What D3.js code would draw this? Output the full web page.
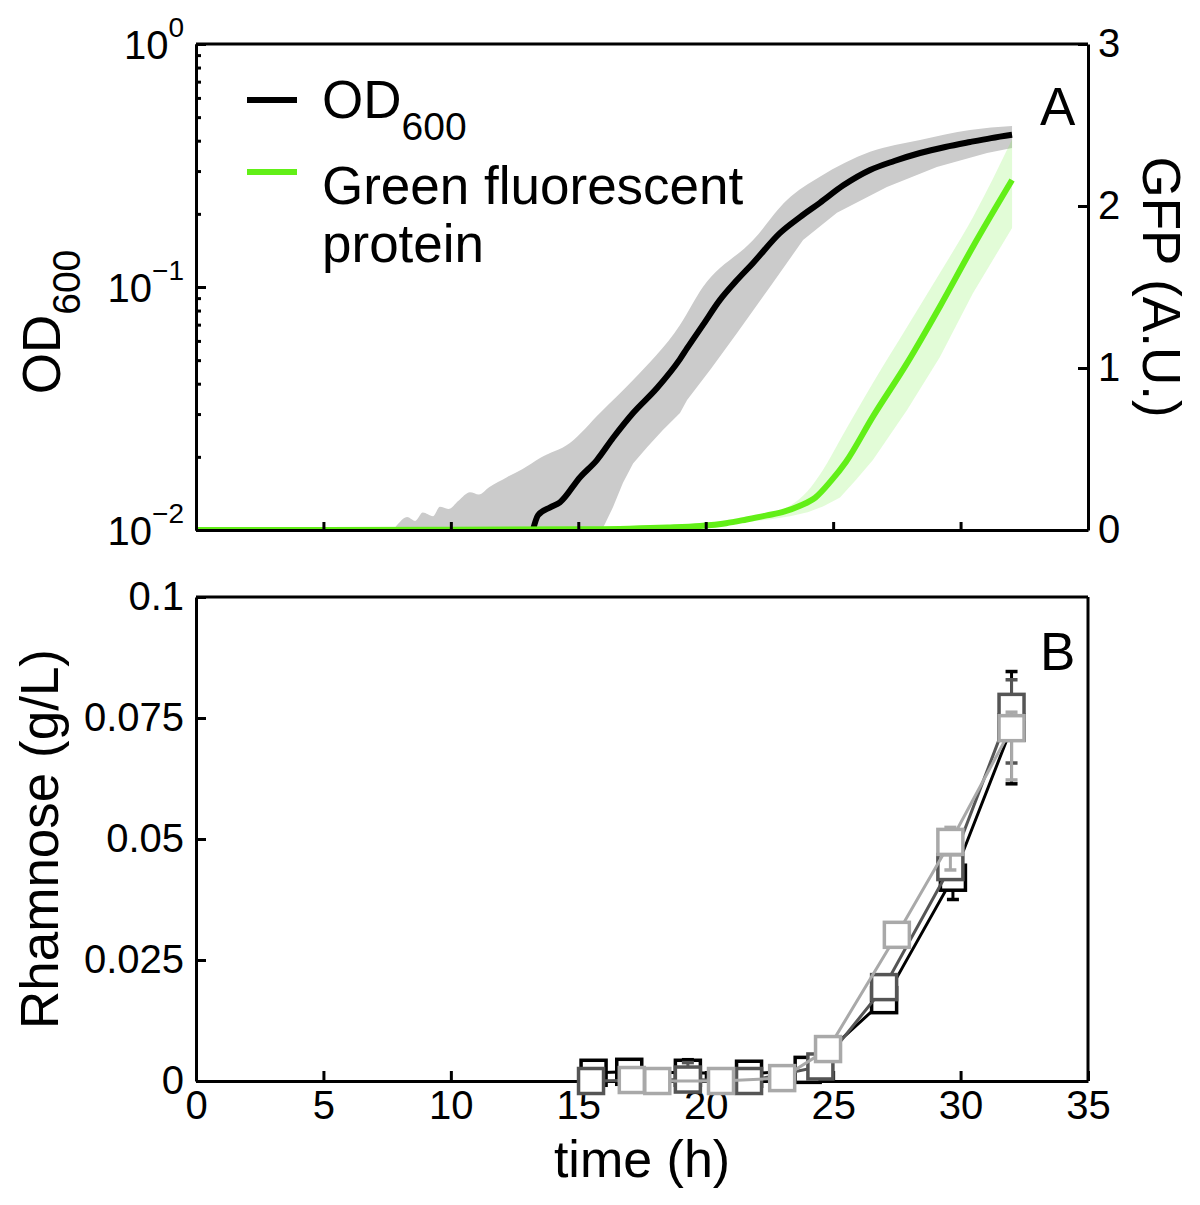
<!DOCTYPE html>
<html><head><meta charset="utf-8">
<script src="https://cdn.jsdelivr.net/npm/d3@7"></script>
<style>
body{margin:0;background:#fff}
text{font-family:"Liberation Sans",Arial,Helvetica,sans-serif;fill:#000}
</style>
</head><body>
<svg id="c" width="1200" height="1205" xmlns="http://www.w3.org/2000/svg"></svg>
<script>
// ---------- DATA ----------
const xTicks = [0,5,10,15,20,25,30,35];
const odMajorTicks = [0.01,0.1,1];
const odMajorExp = ["\u22122","\u22121","0"];
const odMinorTicks = [0.02,0.03,0.04,0.05,0.06,0.07,0.08,0.09,0.2,0.3,0.4,0.5,0.6,0.7,0.8,0.9];
const gfpTicks = [0,1,2,3];
const rhamTicks = [0,0.025,0.05,0.075,0.1];
const rhamTickLabels = ["0","0.025","0.05","0.075","0.1"];

// OD600 mean curve
const odTime = [13.22,13.42,13.9,14.28,15.07,15.73,16.36,17.15,18.09,18.99,19.27,19.9,20.56,21.2,21.86,22.91,23.7,24.48,25.4,26.45,27.4,28.41,29.4,30.37,31.2,32.02];
const odMean = [0.0100,0.0115,0.0124,0.0130,0.0165,0.0194,0.0239,0.0303,0.0384,0.0505,0.0560,0.0700,0.0885,0.106,0.1256,0.1667,0.194,0.222,0.262,0.303,0.330,0.356,0.377,0.395,0.410,0.423];
// OD600 band (upper / lower)
const odUpTime = [7.73,8.0,8.28,8.6,8.9,9.3,9.57,9.9,10.3,10.75,11.1,11.5,12.2,12.8,13.5,14.67,15.85,17.15,18.99,19.89,21.86,23.19,24.48,26.45,28.41,30.37,32.02];
const odUp = [0.0100,0.0108,0.0113,0.0109,0.0118,0.0114,0.01245,0.0122,0.0132,0.0143,0.0140,0.0150,0.0165,0.0178,0.0198,0.0228,0.0303,0.0414,0.0698,0.100,0.156,0.228,0.284,0.360,0.403,0.443,0.460];
const odLoTime = [15.93,16.36,16.75,17.15,17.7,18.32,18.99,19.27,20.2,21.23,22.52,23.82,25.15,27.11,29.07,31.04,32.02];
const odLo = [0.0100,0.0124,0.0156,0.0188,0.0219,0.0258,0.0303,0.0343,0.046,0.0647,0.100,0.156,0.202,0.258,0.312,0.356,0.373];

// GFP mean curve and band
const gfpTime = [0,5,10,15,17,18.5,19.78,20.8,21.6,22.4,23.1,23.7,24.3,24.9,25.5,26.56,27.9,29.19,30.49,32.02];
const gfpMean = [0,0,0.001,0.004,0.008,0.015,0.025,0.042,0.065,0.09,0.115,0.15,0.2,0.3,0.42,0.70,1.03,1.38,1.75,2.16];
const gfpUpTime = [0,15,19.78,21.35,22.5,23.31,24.0,24.6,25.27,26.56,27.9,29.19,30.49,32.02];
const gfpUp = [0,0.006,0.035,0.075,0.105,0.15,0.24,0.37,0.556,0.907,1.253,1.586,1.932,2.41];
const gfpLoTime = [0,15,19.78,21.35,22.5,23.31,24.0,24.6,25.27,25.9,26.56,27.9,29.19,30.49,32.02];
const gfpLo = [0,0.002,0.015,0.045,0.065,0.085,0.11,0.145,0.2,0.31,0.432,0.741,1.068,1.463,1.864];

// Rhamnose (panel B), three replicates
const blackTime = [15.6,17.0,19.3,21.7,24.0,27.0,29.7,32.0];
const blackRham = [0.0017,0.0019,0.0017,0.0015,0.0023,0.0167,0.042,0.073];
const blackErrLo = [0.0008,0.0008,0.001,0.0006,0.0008,0.0025,0.0045,0.0116];
const blackErrHi = [0.0008,0.0008,0.0027,0.0006,0.0008,0.001,0.002,0.0116];

const darkTime = [15.5,19.3,21.7,24.5,27.0,29.6,32.0];
const darkRham = [0.0,0.0003,0.0,0.003,0.0194,0.0442,0.0773];
const darkErrLo = [0.0006,0.001,0.0005,0.0008,0.001,0.002,0.0116];
const darkErrHi = [0.0006,0.0035,0.0005,0.0008,0.001,0.002,0.0056];

const lightTime = [17.1,18.1,20.6,23.0,24.8,27.5,29.6,32.0];
const lightRham = [0.0002,0.0,0.0,0.0006,0.0066,0.0302,0.0494,0.0729];
const lightErrLo = [0.0004,0.0004,0.0004,0.0004,0.0006,0.001,0.0058,0.0107];
const lightErrHi = [0.0004,0.0004,0.0004,0.0004,0.0006,0.001,0.003,0.0033];

// ---------- LAYOUT ----------
const svg = d3.select("#c");
const L = 196, R = 1088;
const topT = 44, topB = 530;
const botT = 597, botB = 1081;
const FONT_TICK = 40, FONT_LAB = 53;

const x = d3.scaleLinear().domain([0,35]).range([L,R]);
const yOD = d3.scaleLog().domain([0.01,1]).range([topB,topT]);
const yG = d3.scaleLinear().domain([0,3]).range([topB,topT]);
const yR = d3.scaleLinear().domain([0,0.1]).range([botB,botT]);

const zip = (a,b) => a.map((v,i)=>[v,b[i]]);

// ---------- PANEL A ----------
const gA = svg.append("g");
gA.append("defs").append("clipPath").attr("id","clipA").append("rect")
  .attr("x",L).attr("y",topT).attr("width",R-L).attr("height",topB-topT);
const plotA = gA.append("g").attr("clip-path","url(#clipA)");

function bandPath(xs, upT, up, loT, lo, ys){
  const pts = zip(upT,up).map(d=>[xs(d[0]),ys(d[1])]);
  const lpts = zip(loT,lo).map(d=>[xs(d[0]),ys(d[1])]).reverse();
  return d3.line().curve(d3.curveMonotoneX)(pts) + "L" + d3.line().curve(d3.curveLinear)(lpts).slice(1) + "Z";
}
const odLoTimeFull = [odUpTime[0]].concat(odLoTime);
const odLoFull = [0.01].concat(odLo);
plotA.append("path").attr("d", bandPath(x, odUpTime, odUp, odLoTimeFull, odLoFull, yOD))
  .attr("fill","#cbcbcb").attr("stroke","none");

plotA.append("path").datum(zip(odTime,odMean))
  .attr("d", d3.line().curve(d3.curveMonotoneX).x(d=>x(d[0])).y(d=>yOD(d[1])))
  .attr("fill","none").attr("stroke","#000").attr("stroke-width",6).attr("stroke-linejoin","round");

plotA.append("path").attr("d", bandPath(x, gfpUpTime, gfpUp, gfpLoTime, gfpLo, yG))
  .attr("fill","#7df24a").attr("fill-opacity",0.22).attr("stroke","none");

plotA.append("path").datum(zip(gfpTime,gfpMean))
  .attr("d", d3.line().curve(d3.curveMonotoneX).x(d=>x(d[0])).y(d=>yG(d[1])))
  .attr("fill","none").attr("stroke","#62ef17").attr("stroke-width",6).attr("stroke-linejoin","round");

// axes panel A
const axA_x = d3.axisBottom(x).tickValues(xTicks.slice(1,-1)).tickSize(-8).tickSizeOuter(0).tickFormat("");
gA.append("g").attr("transform",`translate(0,${topB})`).call(axA_x);
const axA_left = d3.axisLeft(yOD).tickValues(odMajorTicks).tickSize(-10).tickSizeOuter(0).tickFormat("");
gA.append("g").attr("transform",`translate(${L},0)`).call(axA_left);
const axA_leftMinor = d3.axisLeft(yOD).tickValues(odMinorTicks).tickSize(-5).tickSizeOuter(0).tickFormat("");
gA.append("g").attr("class","minor").attr("transform",`translate(${L},0)`).call(axA_leftMinor);
const axA_right = d3.axisRight(yG).tickValues(gfpTicks).tickSize(-10).tickSizeOuter(0).tickPadding(10).tickFormat(d3.format("d"));
gA.append("g").attr("class","gfpaxis").attr("transform",`translate(${R},0)`).call(axA_right);
gA.append("line").attr("x1",L).attr("x2",R).attr("y1",topT).attr("y2",topT).attr("stroke","#000").attr("stroke-width",3);

// log tick labels
odMajorTicks.forEach((v,i)=>{
  const t = gA.append("text").attr("x",L-12).attr("y",yOD(v)+15).attr("text-anchor","end").style("font-size",FONT_TICK+"px");
  t.append("tspan").text("10");
  t.append("tspan").attr("dy",-22).style("font-size","28px").text(odMajorExp[i]);
});

// axis titles A
const odTitle = gA.append("text").attr("transform",`translate(60,322) rotate(-90)`).attr("text-anchor","middle").style("font-size",FONT_LAB+"px");
odTitle.append("tspan").text("OD");
odTitle.append("tspan").attr("dy",20).style("font-size","39px").text("600");
gA.append("text").attr("transform",`translate(1143,${(topT+topB)/2}) rotate(90)`).attr("text-anchor","middle").style("font-size",FONT_LAB+"px").text("GFP (A.U.)");

// legend
gA.append("line").attr("x1",247).attr("x2",297).attr("y1",100).attr("y2",100).attr("stroke","#000").attr("stroke-width",6);
gA.append("line").attr("x1",247).attr("x2",297).attr("y1",172).attr("y2",172).attr("stroke","#62ef17").attr("stroke-width",6);
const lg1 = gA.append("text").attr("x",322).attr("y",118).style("font-size",FONT_LAB+"px");
lg1.append("tspan").text("OD");
lg1.append("tspan").attr("dy",22).style("font-size","39px").text("600");
gA.append("text").attr("x",322).attr("y",204).style("font-size",FONT_LAB+"px").text("Green fluorescent");
gA.append("text").attr("x",322).attr("y",262).style("font-size",FONT_LAB+"px").text("protein");
gA.append("text").attr("x",1040).attr("y",125).style("font-size",FONT_LAB+"px").text("A");

// ---------- PANEL B ----------
const gB = svg.append("g");
const axB_x = d3.axisBottom(x).tickValues(xTicks).tickSize(-10).tickSizeOuter(0).tickPadding(10).tickFormat(d3.format("d"));
gB.append("g").attr("class","bx").attr("transform",`translate(0,${botB})`).call(axB_x);
const axB_y = d3.axisLeft(yR).tickValues(rhamTicks).tickSize(-10).tickSizeOuter(0).tickPadding(12).tickFormat((d,i)=>rhamTickLabels[i]);
gB.append("g").attr("class","by").attr("transform",`translate(${L},0)`).call(axB_y);
gB.append("line").attr("x1",L).attr("x2",R).attr("y1",botT).attr("y2",botT).attr("stroke","#000").attr("stroke-width",3);
gB.append("line").attr("x1",R).attr("x2",R).attr("y1",botT).attr("y2",botB).attr("stroke","#000").attr("stroke-width",3);

const series = [
  {t:blackTime, v:blackRham, lo:blackErrLo, hi:blackErrHi, c:"#000000"},
  {t:darkTime, v:darkRham, lo:darkErrLo, hi:darkErrHi, c:"#555555"},
  {t:lightTime, v:lightRham, lo:lightErrLo, hi:lightErrHi, c:"#a9a9a9"}
];
series.forEach(s=>{
  const g = gB.append("g");
  s.t.forEach((t,i)=>{
    const xx = x(t), y1 = yR(s.v[i]-s.lo[i]), y2 = yR(s.v[i]+s.hi[i]);
    g.append("line").attr("x1",xx).attr("x2",xx).attr("y1",y1).attr("y2",y2).attr("stroke",s.c).attr("stroke-width",3);
    [y1,y2].forEach(yy=>g.append("line").attr("x1",xx-6).attr("x2",xx+6).attr("y1",yy).attr("y2",yy).attr("stroke",s.c).attr("stroke-width",3.5));
  });
  g.append("path").datum(zip(s.t,s.v)).attr("d",d3.line().x(d=>x(d[0])).y(d=>yR(d[1])))
    .attr("fill","none").attr("stroke",s.c).attr("stroke-width",3);
  s.t.forEach((t,i)=>{
    g.append("rect").attr("x",x(t)-12.5).attr("y",yR(s.v[i])-12.5).attr("width",25).attr("height",25)
      .attr("fill","#fff").attr("stroke",s.c).attr("stroke-width",3.5);
  });
});

gB.append("text").attr("x",(L+R)/2).attr("y",1177).attr("text-anchor","middle").style("font-size","52px").text("time (h)");
gB.append("text").attr("transform",`translate(58,${(botT+botB)/2}) rotate(-90)`).attr("text-anchor","middle").style("font-size",FONT_LAB+"px").text("Rhamnose (g/L)");
gB.append("text").attr("x",1040).attr("y",670).style("font-size",FONT_LAB+"px").text("B");

// ---------- common axis styling ----------
svg.selectAll(".domain").attr("stroke","#000").attr("stroke-width",3);
svg.selectAll(".tick line").attr("stroke","#000").attr("stroke-width",3);
svg.selectAll(".tick text").style("font-size",FONT_TICK+"px").style("font-family",'"Liberation Sans",Arial,sans-serif').attr("fill","#000");
</script>
</body></html>
